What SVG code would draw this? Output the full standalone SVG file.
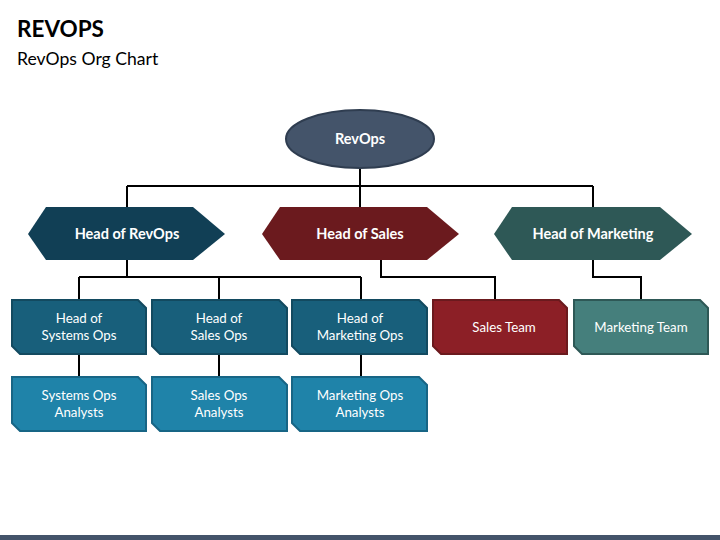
<svg xmlns="http://www.w3.org/2000/svg" width="720" height="540" viewBox="0 0 720 540">
<style>
.title{font-family:Lato,"Liberation Sans",sans-serif;font-weight:bold;font-size:22.5px;fill:#000}
.sub{font-family:Lato,"Liberation Sans",sans-serif;font-size:17.6px;fill:#000}
.hl{font-family:Lato,"Liberation Sans",sans-serif;font-weight:bold;font-size:14.5px;fill:#fff;text-anchor:middle}
.bl{font-family:Lato,"Liberation Sans",sans-serif;font-size:13.3px;fill:#fff;text-anchor:middle}
.conn{stroke:#000;stroke-width:2;fill:none}
.hd{fill:#185f7b;stroke:#134a60;stroke-width:2}
.an{fill:#1f83a9;stroke:#176585;stroke-width:2}
</style>
<rect x="0" y="0" width="720" height="540" fill="#fff"/>
<text class="title" x="17" y="37">REVOPS</text>
<text class="sub" x="17" y="65">RevOps Org Chart</text>

<g id="connectors">
<path class="conn" d="M360 168V207M127 186H593M127 186V207M593 186V207"/>
<path class="conn" d="M127 260V277M79 277H361M79 277V299M219 277V299M361 277V299"/>
<path class="conn" d="M381 260V277H495V299"/>
<path class="conn" d="M593 260V277H641V299"/>
<path class="conn" d="M79 354V377M219 354V377M361 354V377"/>
</g>

<g id="revops">
<ellipse cx="360" cy="139" rx="74" ry="29" fill="#44546a" stroke="#2f3d50" stroke-width="2"/>
<text class="hl" x="360" y="144">RevOps</text>
</g>

<g id="head-revops">
<polygon points="28,234 46,207 193,207 225,234 193,260 46,260" fill="#113f55"/>
<text class="hl" x="127" y="239">Head of RevOps</text>
</g>
<g id="head-sales">
<polygon points="262,234 280,207 427,207 459,234 427,260 280,260" fill="#6b1a1e"/>
<text class="hl" x="360" y="239">Head of Sales</text>
</g>
<g id="head-marketing">
<polygon points="494,234 512,207 660,207 692,234 660,260 512,260" fill="#2e5856"/>
<text class="hl" x="593" y="239">Head of Marketing</text>
</g>

<g id="head-systems-ops">
<path class="hd" d="M12 300H138L146 308V354H20L12 346Z"/>
<text class="bl" x="79" y="323">Head of</text>
<text class="bl" x="79" y="340">Systems Ops</text>
</g>
<g id="head-sales-ops">
<path class="hd" d="M152 300H279L287 308V354H160L152 346Z"/>
<text class="bl" x="219" y="323">Head of</text>
<text class="bl" x="219" y="340">Sales Ops</text>
</g>
<g id="head-marketing-ops">
<path class="hd" d="M292 300H419L427 308V354H300L292 346Z"/>
<text class="bl" x="360" y="323">Head of</text>
<text class="bl" x="360" y="340">Marketing Ops</text>
</g>
<g id="sales-team">
<path d="M433 300H559L567 308V354H441L433 346Z" fill="#8c1f26" stroke="#6b1a1e" stroke-width="2"/>
<text class="bl" x="504" y="332">Sales Team</text>
</g>
<g id="marketing-team">
<path d="M574 300H700L708 308V354H582L574 346Z" fill="#457f7c" stroke="#2e5856" stroke-width="2"/>
<text class="bl" x="641" y="332">Marketing Team</text>
</g>

<g id="systems-ops-analysts">
<path class="an" d="M12 377H138L146 385V431H20L12 423Z"/>
<text class="bl" x="79" y="400">Systems Ops</text>
<text class="bl" x="79" y="417">Analysts</text>
</g>
<g id="sales-ops-analysts">
<path class="an" d="M152 377H279L287 385V431H160L152 423Z"/>
<text class="bl" x="219" y="400">Sales Ops</text>
<text class="bl" x="219" y="417">Analysts</text>
</g>
<g id="marketing-ops-analysts">
<path class="an" d="M292 377H419L427 385V431H300L292 423Z"/>
<text class="bl" x="360" y="400">Marketing Ops</text>
<text class="bl" x="360" y="417">Analysts</text>
</g>

<rect x="0" y="535" width="720" height="5" fill="#44546a"/>
</svg>
